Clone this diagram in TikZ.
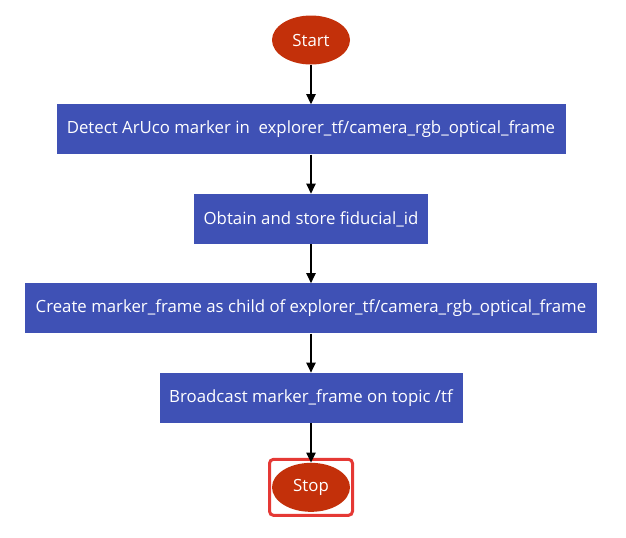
\documentclass[tikz,border=0pt]{standalone}
\usepackage{fontspec}
\setmainfont{Open Sans}
\usetikzlibrary{shapes.geometric,positioning,arrows.meta}

\definecolor{stepblue}{HTML}{3F51B5}
\definecolor{termred}{HTML}{C3300A}
\definecolor{hilitered}{HTML}{E53935}

\begin{document}
\begin{tikzpicture}[x=0.75pt,y=-0.75pt,node distance=67.1pt,on grid,
   term/.style={ellipse,fill=termred,text=white,minimum width=58.5pt,minimum height=36.75pt,inner sep=0pt,font=\fontsize{12.6}{15}\selectfont},
   stepbox/.style={rectangle,fill=stepblue,text=white,minimum height=37.5pt,inner sep=0pt,font=\fontsize{12.6}{15}\selectfont},
   hilite/.style={rectangle,draw=hilitered,line width=2.25pt,rounded corners=3pt,minimum width=62.25pt,minimum height=42pt,inner sep=0pt}]
   \useasboundingbox (0,0) rectangle (626,537);
   \node[term] (start) at (311,40) {Start};
   \node[stepbox,minimum width=381.75pt] (detect) [below=of start] {Detect ArUco marker in\ \ explorer\_tf/camera\_rgb\_optical\_frame};
   \node[stepbox,minimum width=175.5pt] (obtain) [below=of detect] {Obtain and store fiducial\_id};
   \node[stepbox,minimum width=429pt] (create) [below=of obtain] {Create marker\_frame as child of explorer\_tf/camera\_rgb\_optical\_frame};
   \node[stepbox,minimum width=227.25pt] (bcast) [below=of create] {Broadcast marker\_frame on topic /tf};
   \node[term] (stop) [below=of bcast] {Stop};
   \node[hilite] (frame) at (stop) {};
    \path[-{Triangle[length=7.5pt,width=7pt]},draw,line width=0.9pt]
    (start) edge (detect)
    (detect) edge (obtain)
    (obtain) edge (create)
    (create) edge (bcast)
    (bcast) edge (stop);
\end{tikzpicture}
\end{document}
